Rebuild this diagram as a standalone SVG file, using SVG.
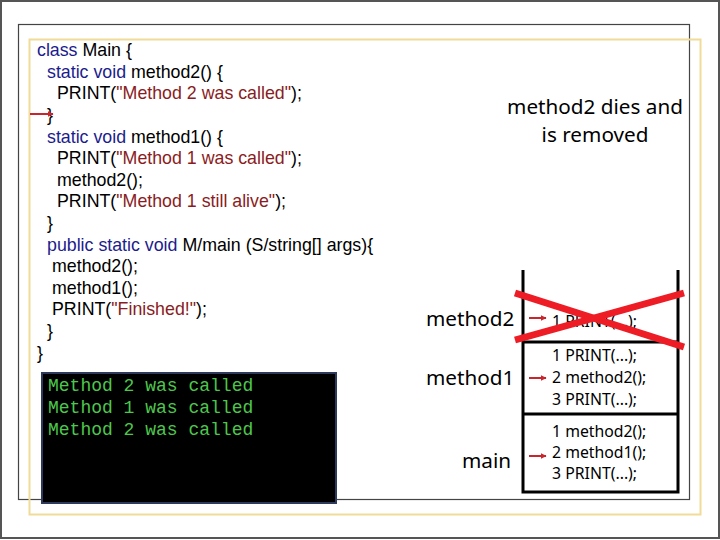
<svg xmlns="http://www.w3.org/2000/svg" width="720" height="540" viewBox="0 0 720 540">
<defs>
<marker id="ah" viewBox="0 0 10 10" refX="9" refY="5" markerWidth="6" markerHeight="6" orient="auto" markerUnits="userSpaceOnUse">
<path d="M0,0 L10,5 L0,10 z" fill="#c8262c"/>
</marker>
<style>
.code{font-family:"Liberation Sans",Arial,sans-serif;font-size:17.8px;fill:#000}
.kw{fill:#1c1c8e}
.str{fill:#8a1c22}
.con{font-family:"Liberation Mono","Courier New",monospace;font-size:18px;fill:#4cc84c}
.lbl{font-family:"Noto Sans",sans-serif;font-size:20.7px;fill:#000}
.stk{font-family:"Noto Sans",sans-serif;font-size:15.8px;fill:#000}
.frame{fill:none;stroke:#000;stroke-width:3}
.arr{stroke:#c8262c;stroke-width:2;fill:none;marker-end:url(#ah)}
</style>
</defs>
<rect x="0" y="0" width="720" height="540" fill="#fff"/>
<rect x="1" y="1" width="718" height="537" fill="none" stroke="#555" stroke-width="2"/>
<rect x="18.5" y="24.5" width="671" height="475" fill="none" stroke="#444" stroke-width="1.2"/>
<rect x="29.5" y="39.5" width="671" height="475" fill="none" stroke="#f0dc98" stroke-width="2"/>

<g id="code">
<text class="code" x="37" y="56"><tspan class="kw">class</tspan> Main {</text>
<text class="code" x="47" y="78"><tspan class="kw">static void</tspan> method2() {</text>
<text class="code" x="57" y="99">PRINT(<tspan class="str">"Method 2 was called"</tspan>);</text>
<text class="code" x="47" y="121">}</text>
<text class="code" x="47" y="143"><tspan class="kw">static void</tspan> method1() {</text>
<text class="code" x="57" y="164">PRINT(<tspan class="str">"Method 1 was called"</tspan>);</text>
<text class="code" x="57" y="186">method2();</text>
<text class="code" x="57" y="207">PRINT(<tspan class="str">"Method 1 still alive"</tspan>);</text>
<text class="code" x="47" y="229">}</text>
<text class="code" x="47" y="251"><tspan class="kw">public static void</tspan> M/main (S/string[] args){</text>
<text class="code" x="52" y="272">method2();</text>
<text class="code" x="52" y="294">method1();</text>
<text class="code" x="52" y="315">PRINT(<tspan class="str">"Finished!"</tspan>);</text>
<text class="code" x="47" y="337">}</text>
<text class="code" x="37" y="359">}</text>
</g>

<g id="console">
<rect x="42" y="373" width="294" height="130" fill="#000" stroke="#2e3a5c" stroke-width="2"/>
<text class="con" x="48" y="391">Method 2 was called</text>
<text class="con" x="48" y="413">Method 1 was called</text>
<text class="con" x="48" y="435">Method 2 was called</text>
</g>

<g id="caption">
<text class="lbl" x="595" y="114" text-anchor="middle">method2 dies and</text>
<text class="lbl" x="595" y="142" text-anchor="middle">is removed</text>
</g>

<g id="frame-method2">
<text class="lbl" x="426" y="326">method2</text>
<text class="stk" x="552" y="327">1 PRINT(...);</text>
</g>
<g id="frame-method1">
<text class="lbl" x="426" y="385">method1</text>
<text class="stk" x="552" y="361">1 PRINT(...);</text>
<text class="stk" x="552" y="383">2 method2();</text>
<text class="stk" x="552" y="405">3 PRINT(...);</text>
</g>
<g id="frame-main">
<text class="lbl" x="462" y="468">main</text>
<text class="stk" x="552" y="437">1 method2();</text>
<text class="stk" x="552" y="458">2 method1();</text>
<text class="stk" x="552" y="479">3 PRINT(...);</text>
</g>
<g id="stack">
<path class="frame" d="M523,270 V492 H678 V270"/>
<line class="frame" x1="523" y1="342" x2="678" y2="342"/>
<line class="frame" x1="523" y1="414" x2="678" y2="414"/>
</g>

<g id="connectors">
<line class="arr" x1="30" y1="114" x2="53" y2="114"/>
<line class="arr" x1="529" y1="318" x2="546" y2="318"/>
<line class="arr" x1="529" y1="378" x2="546" y2="378"/>
<line class="arr" x1="529" y1="456" x2="546" y2="456"/>
</g>

<g id="cross">
<line x1="515" y1="293" x2="684" y2="347" stroke="#ee1c24" stroke-width="7"/>
<line x1="515" y1="340" x2="684" y2="293" stroke="#ee1c24" stroke-width="7"/>
</g>
</svg>
